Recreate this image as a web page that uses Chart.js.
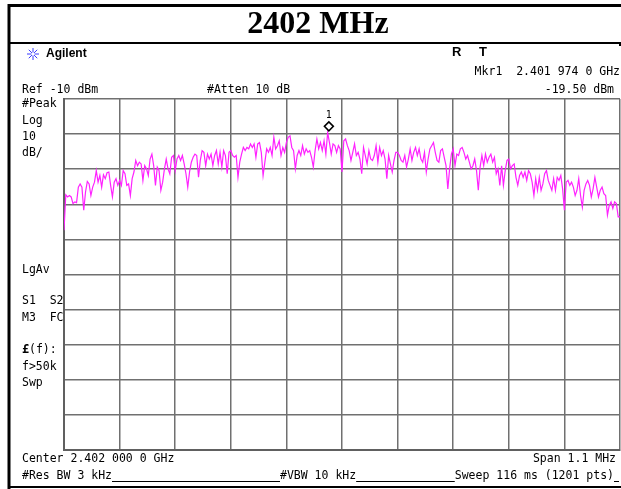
<!DOCTYPE html>
<html>
<head>
<meta charset="utf-8">
<script src="https://cdn.jsdelivr.net/npm/chart.js@4"></script>
<style>
  html, body { margin: 0; padding: 0; background: #fff; }
  canvas { display: block; }
</style>
</head>
<body>
<canvas id="sa" width="621" height="489"></canvas>
<script>
// sweep settings
const centerGHz = 2.402;
const spanKHz = 1100;
const refDbm = -10;
const dbPerDiv = 10;
const divisions = 10;

// trace 1, peak hold, dBm across the span (left to right)
const traceDbm = [
  -47.4, -37.3, -37.9, -37.5, -37.9, -39.8, -39.3, -39.5, -35.1, -34.2,
  -35.1, -41.7, -36.5, -33.5, -34.2, -37.5, -35.1, -33.7, -30.4, -33.7,
  -31.8, -35.1, -31.6, -32.7, -31.0, -30.8, -34.6, -37.9, -33.7, -32.7,
  -34.6, -33.2, -34.6, -30.4, -31.3, -34.6, -34.2, -37.5, -32.7, -30.8,
  -27.5, -29.0, -28.0, -28.5, -33.2, -29.0, -29.9, -31.8, -27.1, -25.7,
  -29.0, -34.6, -29.4, -30.4, -36.0, -33.7, -29.9, -27.1, -29.9, -31.3,
  -26.6, -26.1, -30.4, -27.1, -26.1, -27.5, -26.1, -28.5, -31.3, -35.1,
  -30.8, -28.0, -26.6, -25.7, -26.1, -32.3, -27.5, -24.7, -25.2, -29.0,
  -25.7, -27.1, -25.7, -29.0, -26.1, -24.7, -28.5, -25.2, -29.4, -24.7,
  -26.1, -31.3, -25.2, -24.7, -26.1, -26.6, -26.1, -32.3, -28.0, -25.7,
  -23.8, -24.7, -23.8, -24.2, -22.8, -23.8, -22.8, -26.6, -22.8, -22.4,
  -25.2, -31.8, -28.0, -24.2, -25.2, -23.8, -26.1, -20.9, -24.2, -23.3,
  -21.9, -26.1, -23.8, -25.2, -22.4, -20.9, -20.5, -23.8, -24.7, -29.9,
  -26.1, -24.7, -26.1, -23.3, -25.7, -24.2, -25.2, -24.7, -26.6, -29.4,
  -24.7, -21.4, -24.2, -22.4, -24.7, -21.9, -25.7, -19.5, -22.4, -25.7,
  -22.8, -23.3, -25.2, -23.3, -24.2, -30.8, -21.9, -21.4, -23.3, -24.7,
  -27.5, -25.2, -22.8, -26.1, -25.2, -27.1, -31.3, -23.8, -26.1, -28.5,
  -24.7, -27.1, -27.5, -26.1, -23.3, -28.0, -23.8, -26.1, -24.7, -27.1,
  -32.7, -26.1, -28.5, -30.8, -27.5, -25.2, -25.2, -26.1, -27.5, -28.0,
  -26.1, -29.4, -27.1, -24.2, -27.5, -25.2, -23.8, -26.1, -24.2, -27.1,
  -28.0, -25.2, -30.8, -27.1, -24.2, -23.3, -22.4, -25.2, -27.5, -28.0,
  -24.7, -24.2, -26.6, -29.0, -35.6, -29.9, -25.7, -24.2, -29.0, -25.7,
  -26.1, -24.2, -23.8, -25.2, -27.1, -26.1, -28.0, -29.9, -29.0, -27.1,
  -30.4, -36.0, -29.4, -26.1, -29.0, -25.7, -28.0, -26.6, -25.7, -28.0,
  -26.6, -31.3, -29.9, -34.6, -29.0, -34.6, -30.4, -27.5, -27.1, -29.9,
  -29.0, -28.5, -32.3, -34.6, -31.8, -30.8, -32.3, -30.8, -33.2, -30.4,
  -31.3, -33.7, -37.5, -32.7, -36.0, -32.3, -36.0, -34.2, -31.3, -30.4,
  -33.2, -34.6, -36.0, -32.7, -36.0, -32.3, -33.2, -31.8, -35.6, -41.7,
  -33.7, -33.2, -34.6, -33.7, -35.1, -37.5, -36.0, -32.7, -37.5, -40.8,
  -36.0, -34.2, -33.2, -34.6, -37.9, -35.6, -32.3, -35.1, -37.9, -36.0,
  -35.1, -37.0, -37.5, -43.1, -40.3, -39.3, -41.2, -39.3, -39.8, -43.6,
  -43.6
];

// marker 1
const markerGHz = 2.401974;
const markerDbm = -19.50;

const mono = '"DejaVu Sans Mono", "Liberation Mono", monospace';
const step = spanKHz / (traceDbm.length - 1);
const tracePoints = traceDbm.map((v, i) => ({ x: -spanKHz / 2 + i * step, y: v }));
const markerKHz = (markerGHz - centerGHz) * 1e6;

function fmtGHz(g) {
  // 2.4019740 -> "2.401 974 0"
  const s = g.toFixed(7);
  return s.slice(0, 5) + ' ' + s.slice(5, 8) + ' ' + s.slice(8);
}

const screen = {
  id: 'screen',
  beforeDraw(chart) {
    const c = chart.ctx;
    const W = chart.width;
    c.save();
    c.fillStyle = '#fff';
    c.fillRect(0, 0, W, chart.height);

    // outer frame and title box
    c.strokeStyle = '#000';
    c.lineWidth = 3;
    c.beginPath();
    c.moveTo(9, 489); c.lineTo(9, 5.5); c.lineTo(W, 5.5);
    c.stroke();
    c.lineWidth = 2;
    c.beginPath();
    c.moveTo(8, 43); c.lineTo(620, 43); c.lineTo(620, 46);
    c.moveTo(8, 487); c.lineTo(W, 487);
    c.stroke();

    c.fillStyle = '#000';
    c.textBaseline = 'middle';
    c.textAlign = 'center';
    c.font = 'bold 32px "Liberation Serif", "DejaVu Serif", serif';
    c.fillText((centerGHz * 1000).toFixed(0) + ' MHz', 318, 25);

    // Agilent logo
    c.strokeStyle = '#3a3aff';
    c.lineWidth = 1;
    for (let k = 0; k < 8; k++) {
      const a = k * Math.PI / 4;
      c.beginPath();
      c.moveTo(33 + Math.cos(a) * 1.5, 54 + Math.sin(a) * 1.5);
      c.lineTo(33 + Math.cos(a) * 6, 54 + Math.sin(a) * 6);
      c.stroke();
    }
    c.textAlign = 'left';
    c.font = 'bold 12px "Liberation Sans", Arial, sans-serif';
    c.fillText('Agilent', 46, 54);
    c.font = 'bold 13px "Liberation Sans", Arial, sans-serif';
    c.fillText('R', 452, 52);
    c.fillText('T', 479, 52);

    c.font = '11.5px ' + mono;
    c.textAlign = 'right';
    c.fillText('Mkr1  ' + fmtGHz(markerGHz) + ' GHz', 620, 72);
    c.fillText('-' + Math.abs(markerDbm).toFixed(2) + ' dBm', 614, 90);
    c.fillText('Span ' + (spanKHz / 1000).toFixed(1) + ' MHz', 616, 459);
    c.textAlign = 'left';
    c.fillText('Ref ' + refDbm + ' dBm', 22, 90);
    c.fillText('#Atten 10 dB', 207, 90);

    const side = [['#Peak', 104], ['Log', 121], [String(dbPerDiv), 137], ['dB/', 153],
      ['LgAv', 270], ['S1  S2', 301], ['M3  FC', 318], ['f>50k', 367], ['Swp', 383]];
    side.forEach(([t, y]) => c.fillText(t, 22, y));
    c.font = 'bold 12px ' + mono;
    c.fillText('£', 22, 350);
    c.font = '11.5px ' + mono;
    c.fillText('(f):', 29, 350);

    c.fillText('Center ' + fmtGHz(centerGHz) + ' GHz', 22, 459);

    // bottom status line with underscores between fields
    const fields = [['#Res BW 3 kHz', 22, 'left'], ['#VBW 10 kHz', 280, 'left'],
      ['Sweep 116 ms (1201 pts)', 614, 'right']];
    const spans = [];
    fields.forEach(([t, x, al]) => {
      c.textAlign = al;
      c.fillText(t, x, 476);
      const w = c.measureText(t).width;
      spans.push(al === 'left' ? [x, x + w] : [x - w, x]);
    });
    c.strokeStyle = '#000';
    c.lineWidth = 1;
    c.beginPath();
    c.moveTo(spans[0][1], 481.5); c.lineTo(spans[1][0], 481.5);
    c.moveTo(spans[1][1], 481.5); c.lineTo(spans[2][0], 481.5);
    c.moveTo(spans[2][1], 481.5); c.lineTo(619, 481.5);
    c.stroke();
    c.restore();
  },
  afterDatasetsDraw(chart) {
    const c = chart.ctx;
    const x = chart.scales.x.getPixelForValue(markerKHz);
    const y = chart.scales.y.getPixelForValue(markerDbm) - 6;
    c.save();
    c.strokeStyle = '#000';
    c.fillStyle = '#fff';
    c.lineWidth = 1.5;
    c.beginPath();
    c.moveTo(x, y - 4.5); c.lineTo(x + 4.5, y); c.lineTo(x, y + 4.5); c.lineTo(x - 4.5, y);
    c.closePath();
    c.fill();
    c.stroke();
    c.fillStyle = '#000';
    c.font = '10px ' + mono;
    c.textAlign = 'center';
    c.textBaseline = 'middle';
    c.fillText('1', x, y - 11);
    c.restore();
  }
};

const gridStyle = { color: '#707070', lineWidth: 1.5, drawTicks: false };

new Chart(document.getElementById('sa'), {
  type: 'line',
  data: {
    datasets: [{
      data: tracePoints,
      borderColor: '#ff22ff',
      borderWidth: 1.2,
      pointRadius: 0,
      tension: 0
    }]
  },
  options: {
    responsive: false,
    animation: false,
    layout: { padding: { left: 64, top: 99, right: 1, bottom: 39 } },
    plugins: { legend: { display: false }, tooltip: { enabled: false } },
    scales: {
      x: {
        type: 'linear',
        min: -spanKHz / 2,
        max: spanKHz / 2,
        ticks: { display: false, stepSize: spanKHz / divisions },
        grid: gridStyle,
        border: { color: '#606060', width: 2 },
        afterFit(s) { s.height = 0; }
      },
      y: {
        min: refDbm - dbPerDiv * divisions,
        max: refDbm,
        ticks: { display: false, stepSize: dbPerDiv },
        grid: gridStyle,
        border: { color: '#606060', width: 2 },
        afterFit(s) { s.width = 0; }
      }
    }
  },
  plugins: [screen]
});
</script>
</body>
</html>
